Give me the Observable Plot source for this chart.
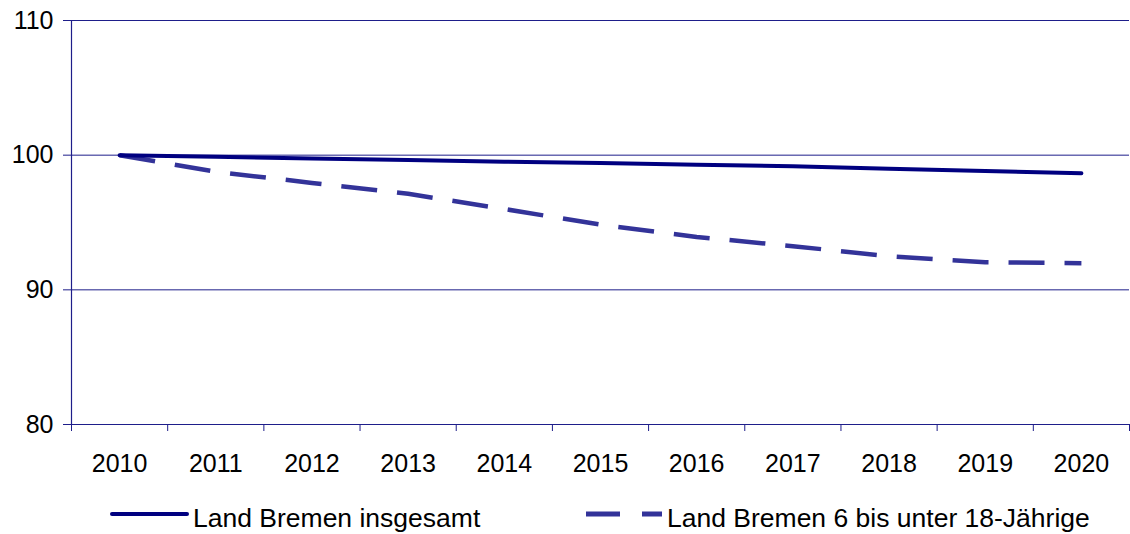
<!DOCTYPE html>
<html>
<head>
<meta charset="utf-8">
<script src="https://cdn.jsdelivr.net/npm/d3@7"></script>
<script src="https://cdn.jsdelivr.net/npm/@observablehq/plot@0.6"></script>
<style>
  body { margin: 0; background: #fff; font-family: "Liberation Sans", Arial, sans-serif; }
  #chart svg, #legend svg { display: block; }
</style>
</head>
<body>
<div id="chart"></div>
<div id="legend"></div>
<script>
const years = [2010, 2011, 2012, 2013, 2014, 2015, 2016, 2017, 2018, 2019, 2020];
const insgesamt = [100, 99.88, 99.76, 99.64, 99.52, 99.41, 99.29, 99.17, 99.0, 98.83, 98.66];
const jaehrige = [100, 98.77, 97.94, 97.13, 96.0, 94.84, 93.93, 93.24, 92.5, 92.05, 91.98];
const seriesNames = ["Land Bremen insgesamt", "Land Bremen 6 bis unter 18-Jährige"];
const yTicks = [80, 90, 100, 110];

const colors = { solid: "#000080", dashed: "#333399", axis: "#1e1e8a" };

const rows = [];
years.forEach((y, i) => {
  rows.push({ year: y, value: insgesamt[i], series: seriesNames[0] });
  rows.push({ year: y, value: jaehrige[i], series: seriesNames[1] });
});
const bounds = years.map(y => y - 0.5).concat([years[years.length - 1] + 0.5]);

const chart = Plot.plot({
  width: 1130,
  height: 494,
  marginTop: 20,
  marginBottom: 70,
  marginLeft: 71,
  marginRight: 1,
  style: { fontFamily: "'Liberation Sans', Arial, sans-serif", fontSize: "25px", color: "#000", background: "#fff" },
  x: { type: "linear", domain: [bounds[0], bounds[bounds.length - 1]] },
  y: { domain: [80, 110] },
  marks: [
    Plot.ruleY([90, 100, 110], { stroke: colors.axis, strokeWidth: 1 }),
    Plot.ruleY([80], { stroke: colors.axis, strokeWidth: 1.2 }),
    Plot.ruleX([bounds[0]], { y1: 80, y2: 110, stroke: colors.axis, strokeWidth: 1.2 }),
    Plot.axisY({ ticks: yTicks, tickSize: 8, tickPadding: 10, stroke: colors.axis, tickFormat: d => String(d), label: null, fontSize: 25, fill: "#000", strokeOpacity: 1 }),
    Plot.axisX({ ticks: bounds, tickSize: 7, tickFormat: () => "", stroke: colors.axis, label: null, strokeOpacity: 1 }),
    Plot.axisX({ ticks: years, tickSize: 0, tickPadding: 30, tickFormat: d => String(d), label: null, fontSize: 25, fill: "#000" }),
    Plot.line(rows.filter(d => d.series === seriesNames[1]), { x: "year", y: "value", stroke: colors.dashed, strokeWidth: 4.5, strokeDasharray: "36,20", strokeLinecap: "butt", strokeLinejoin: "round" }),
    Plot.line(rows.filter(d => d.series === seriesNames[0]), { x: "year", y: "value", stroke: colors.solid, strokeWidth: 4, strokeLinecap: "round", strokeLinejoin: "round" })
  ]
});
document.getElementById("chart").appendChild(chart);

const legend = document.getElementById("legend");
legend.innerHTML = `
  <svg width="1130" height="40" font-family="'Liberation Sans', Arial, sans-serif" font-size="26.5">
    <line x1="112" y1="20" x2="187" y2="20" stroke="${colors.solid}" stroke-width="4" stroke-linecap="round"/>
    <text x="193" y="33" fill="#000">${seriesNames[0]}</text>
    <line x1="586" y1="20" x2="662" y2="20" stroke="${colors.dashed}" stroke-width="5" stroke-dasharray="34,22"/>
    <text x="667" y="33" fill="#000">${seriesNames[1]}</text>
  </svg>`;
</script>
</body>
</html>
